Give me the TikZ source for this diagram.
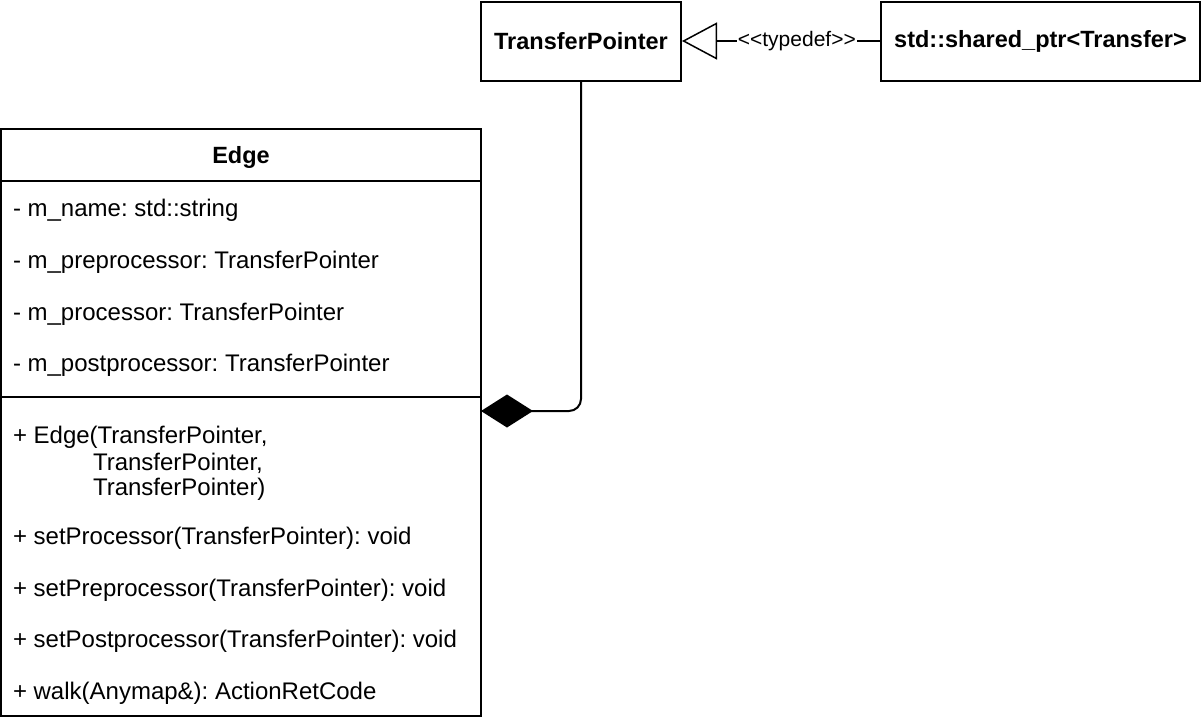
\documentclass[tikz,border=0pt]{standalone}
\usepackage{fontspec}
\setmainfont[Ligatures=NoCommon]{Liberation Sans}
\usetikzlibrary{arrows.meta}
\begin{document}
\frenchspacing
\begin{tikzpicture}[x=1pt,y=-1pt,line width=2pt,
  box/.style={draw,inner sep=0pt,font=\fontsize{23.5}{28}\selectfont\bfseries},
  member/.style={anchor=west,inner sep=0pt,font=\fontsize{24}{28}\selectfont\frenchspacing},
  lbl/.style={fill=white,inner sep=1pt,font=\fontsize{21}{24}\selectfont}]
\useasboundingbox (0,0) rectangle (1202,724);
\node[box,minimum width=200pt,minimum height=79pt] (tp) at (581,41) {TransferPointer};
\node[box,minimum width=319pt,minimum height=79pt] (sp) at (1040.5,41) {std::shared\_ptr{<}Transfer{>}};
\node[draw,inner sep=0pt,minimum width=480pt,minimum height=587pt] (edge) at (241,422.5) {};
\node[font=\fontsize{23.5}{28}\selectfont\bfseries] (title) at (241,157) {Edge};
\coordinate (s1) at (1,181);
\coordinate (s2) at (1,397);
\draw (s1) -- (s1 -| edge.east);
\draw (s2) -- (s2 -| edge.east);
\node[member] (a1) at (12,210) {- m\_name: std::string};
\node[member] (a2) at (12,262) {- m\_preprocessor: TransferPointer};
\node[member] (a3) at (12,314) {- m\_processor: TransferPointer};
\node[member] (a4) at (12,365) {- m\_postprocessor: TransferPointer};
\node[member] (m1) at (12,437) {+ Edge(TransferPointer,};
\node[member] (m1b) at (92,463) {TransferPointer,};
\node[member] (m1c) at (92,489) {TransferPointer)};
\node[member] (m2) at (12,538) {+ setProcessor(TransferPointer): void};
\node[member] (m3) at (12,590) {+ setPreprocessor(TransferPointer): void};
\node[member] (m4) at (12,641) {+ setPostprocessor(TransferPointer): void};
\node[member] (m5) at (12,693) {+ walk(Anymap\&): ActionRetCode};
\coordinate (d) at (481,411);
\draw[{Diamond[length=52pt,width=33pt,fill=black]}-,rounded corners=12pt] (d) -- (tp.south |- d) -- (tp.south);
\draw[-{Triangle[open,length=35pt,width=37pt,line width=1.5pt,fill=white]}] (sp.west) -- node[lbl,pos=0.42] {{<}{<}typedef{>}{>}} (tp.east);
\end{tikzpicture}
\end{document}
